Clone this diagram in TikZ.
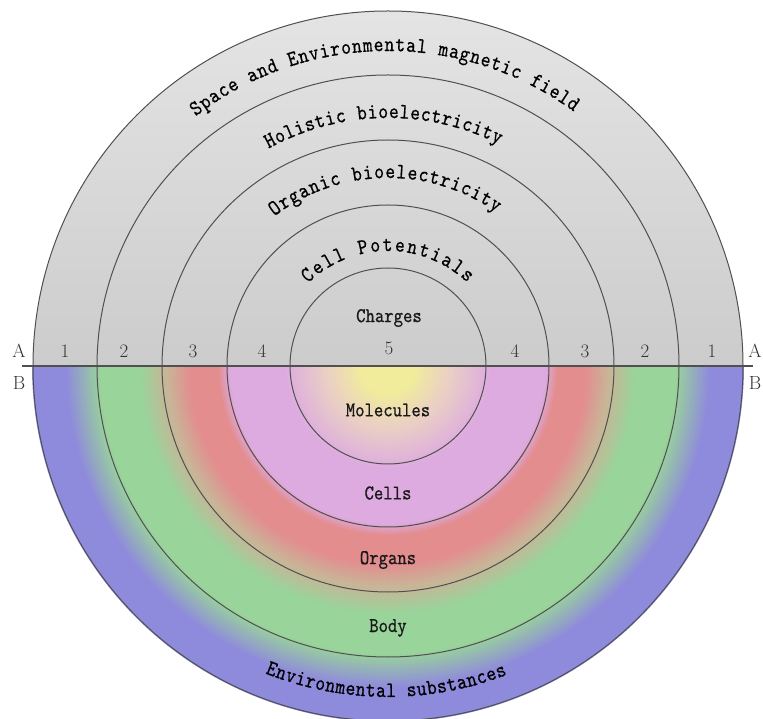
\documentclass[tikz,border=0pt]{standalone}
\usepackage{fontspec}
\usetikzlibrary{decorations.text}
\newfontfamily\labfont[FakeStretch=0.85,FakeBold=0.6]{lmmono10-regular.otf}
\definecolor{cYel}{HTML}{F1EC9C}
\definecolor{cPeach}{HTML}{EAD0C4}
\definecolor{cPink}{HTML}{DDABE0}
\definecolor{cRed}{HTML}{E38D8F}
\definecolor{cTan}{HTML}{C9B597}
\definecolor{cGreen}{HTML}{99D49A}
\definecolor{cBlue}{HTML}{8F8BDC}
\definecolor{topgray}{HTML}{E4E4E4}
\definecolor{botgray}{HTML}{CCCCCC}
\definecolor{ringline}{HTML}{505050}
\newcommand\curvefont{\labfont\fontsize{22}{24}\selectfont}
\tikzset{
  ringline/.style={draw=ringline, line width=1pt},
  axisline/.style={draw=ringline, line width=1.5pt},
  lab/.style={font=\labfont\fontsize{21}{24}\selectfont, text=black!90, inner sep=0pt},
  ab/.style={font=\fontsize{19}{22}\selectfont, text=black!80, inner sep=0pt},
  curved/.style={decorate, decoration={text along path, text align=fit to path, text={|\curvefont|#1}}}
}
\begin{document}
\begin{tikzpicture}[x=1pt,y=1pt]
\clip (0,0) rectangle (763,718);
\coordinate (C) at (388,352);
% upper half
\begin{scope}
  \clip (C) ++(-355,0) arc[start angle=180,end angle=0,radius=355] -- cycle;
  \shade[top color=topgray, bottom color=botgray] (33,352) rectangle (743,707);
\end{scope}
% lower half
\begin{scope}
  \clip (0,0) rectangle (763,352);
  \fill[cBlue] (C) circle (356);
  \foreach \r in {322,321,...,288}{\pgfmathtruncatemacro\p{(\r-288)*100/34}\fill[cBlue!\p!cGreen] (C) circle (\r);}
  \fill[cGreen] (C) circle (287);
  \foreach \r in {248,247,...,222}{\pgfmathtruncatemacro\p{(\r-222)*100/26}\fill[cGreen!\p!cTan] (C) circle (\r);}
  \foreach \r in {221,220,...,198}{\pgfmathtruncatemacro\p{(\r-198)*100/23}\fill[cTan!\p!cRed] (C) circle (\r);}
  \fill[cRed] (C) circle (197);
  \foreach \r in {170,169,...,158}{\pgfmathtruncatemacro\p{(\r-158)*100/12}\fill[cRed!\p!cPink] (C) circle (\r);}
  \fill[cPink] (C) circle (157);
  \foreach \r in {104,103,...,62}{\pgfmathtruncatemacro\p{(\r-62)*100/42}\fill[cPink!\p!cPeach] (C) circle (\r);}
  \foreach \r in {61,60,...,28}{\pgfmathtruncatemacro\p{(\r-28)*100/33}\fill[cPeach!\p!cYel] (C) circle (\r);}
  \fill[cYel] (C) circle (28);
\end{scope}
% rings
\draw[ringline] (C) circle (355);
\draw[ringline] (C) circle (291);
\draw[ringline] (C) circle (226);
\draw[ringline] (C) circle (161);
\draw[ringline] (C) circle (98);
% axis
\coordinate (L) at (22,352);
\coordinate (R) at (753,352);
\draw[axisline] (L) -- (R);
% A / B labels
\node[ab] (AL) at (19,367) {A};
\node[ab] (BL) at (19,335) {B};
\node[ab] (AR) at (755,367) {A};
\node[ab] (BR) at (755,335) {B};
% numbers
\node[ab] (n1l) at (65,367) {1};
\node[ab] (n2l) at (124,367) {2};
\node[ab] (n3l) at (193,367) {3};
\node[ab] (n4l) at (262,367) {4};
\node[ab] (n5) at (389,370) {5};
\node[ab] (n4r) at (515,367) {4};
\node[ab] (n3r) at (585,367) {3};
\node[ab] (n2r) at (645,367) {2};
\node[ab] (n1r) at (712,367) {1};
% straight labels
\node[lab] (charges) at (389,400) {Charges};
\node[lab] (molecules) at (388,308) {Molecules};
\node[lab] (cells) at (388,225) {Cells};
\node[lab] (organs) at (388,158) {Organs};
\node[lab] (body) at (388,90) {Body};
% curved labels
\path[curved={Space and Environmental magnetic field}] ([shift={(127.6:315)}]C) arc[start angle=127.6, end angle=53.9, radius=315];
\path[curved={Holistic bioelectricity}] ([shift={(118.8:248)}]C) arc[start angle=118.8, end angle=63.4, radius=248];
\path[curved={Organic bioelectricity}] ([shift={(127.2:188)}]C) arc[start angle=127.2, end angle=54.8, radius=188];
\path[curved={Cell Potentials}] ([shift={(134:115)}]C) arc[start angle=134, end angle=46.4, radius=115];
\path[curved={Environmental substances}] ([shift={(248.2:331)}]C) arc[start angle=248.2, end angle=291.1, radius=331];
\end{tikzpicture}
\end{document}
